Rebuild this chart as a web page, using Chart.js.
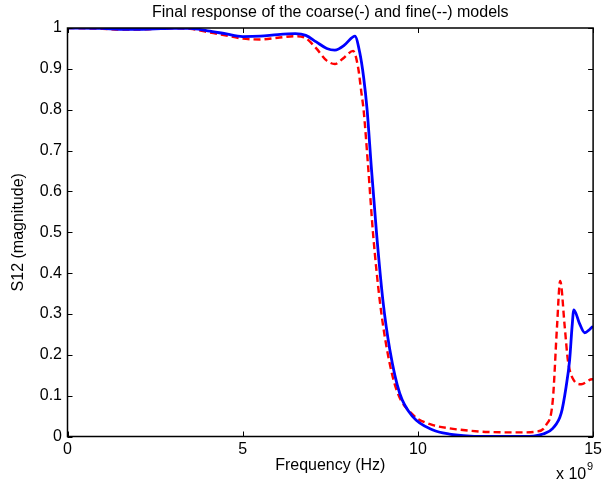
<!DOCTYPE html>
<html>
<head>
<meta charset="utf-8">
<script src="https://cdn.jsdelivr.net/npm/chart.js@4.4.1/dist/chart.umd.min.js"></script>
<style>
  html, body { margin: 0; padding: 0; background: #fff; }
  #wrap { width: 605px; height: 482px; }
</style>
</head>
<body>
<div id="wrap"><canvas id="chart"></canvas></div>
<script>
  // frequency in units of 1e9 Hz
  const freqCoarse = [0, 1, 1.5, 2, 2.5, 3, 3.5, 4, 4.5, 5, 5.5, 6, 6.5, 6.8, 7.1, 7.4, 7.63, 7.9, 8.1, 8.2, 8.34, 8.45, 8.55, 8.67, 8.82, 9.0, 9.2, 9.48, 9.86, 10.43, 10.9, 11.5, 12, 13, 13.3, 13.57, 13.85, 14.09, 14.23, 14.33, 14.4, 14.45, 14.61, 14.76, 14.9, 15];
  const s12Coarse  = [1.0, 0.999, 0.997, 0.997, 0.998, 0.999, 0.999, 0.993, 0.986, 0.979, 0.98, 0.984, 0.986, 0.982, 0.966, 0.95, 0.946, 0.958, 0.975, 0.98, 0.94, 0.88, 0.8, 0.66, 0.497, 0.334, 0.212, 0.106, 0.048, 0.016, 0.006, 0.001, 0, 0, 0.001, 0.006, 0.02, 0.057, 0.122, 0.187, 0.269, 0.31, 0.277, 0.254, 0.262, 0.27];

  const freqFine = [0, 1, 1.5, 2, 2.5, 3, 3.5, 4, 4.5, 5, 5.5, 6, 6.5, 6.8, 7.1, 7.4, 7.63, 7.9, 8.15, 8.29, 8.39, 8.45, 8.58, 8.72, 8.91, 9.12, 9.39, 9.86, 10.43, 10.9, 11.5, 12, 13, 13.38, 13.66, 13.85, 13.97, 14.06, 14.19, 14.28, 14.42, 14.66, 14.97, 15];
  const s12Fine  = [1.0, 0.998, 0.996, 0.996, 0.998, 0.999, 0.998, 0.99, 0.982, 0.974, 0.972, 0.976, 0.98, 0.975, 0.95, 0.92, 0.912, 0.928, 0.944, 0.905, 0.84, 0.8, 0.66, 0.497, 0.334, 0.212, 0.114, 0.053, 0.028, 0.02, 0.014, 0.011, 0.01, 0.012, 0.028, 0.089, 0.269, 0.381, 0.269, 0.187, 0.142, 0.128, 0.14, 0.14];

  const xTicks = [0, 5, 10, 15];
  const yTicks = [0, 0.1, 0.2, 0.3, 0.4, 0.5, 0.6, 0.7, 0.8, 0.9, 1];

  const titleText = "Final response of the coarse(-) and fine(--) models";
  const FONT = "'Liberation Sans', Arial, sans-serif";

  const toPoints = (xs, ys) => xs.map((x, i) => ({ x: x, y: ys[i] }));

  // matlab style box with inward ticks, title over the axes, exponent label
  const matlabBox = {
    id: "matlabBox",
    afterDraw(chart) {
      const { ctx, chartArea: a, scales } = chart;
      ctx.save();
      ctx.strokeStyle = "#000";
      ctx.lineWidth = 1.5;
      ctx.strokeRect(a.left, a.top, a.right - a.left, a.bottom - a.top);
      ctx.lineWidth = 1;
      ctx.beginPath();
      xTicks.forEach(v => {
        const px = Math.round(scales.x.getPixelForValue(v)) + 0.5;
        ctx.moveTo(px, a.bottom); ctx.lineTo(px, a.bottom - 5);
        ctx.moveTo(px, a.top); ctx.lineTo(px, a.top + 5);
      });
      yTicks.forEach(v => {
        const py = Math.round(scales.y.getPixelForValue(v)) + 0.5;
        ctx.moveTo(a.left, py); ctx.lineTo(a.left + 5, py);
        ctx.moveTo(a.right, py); ctx.lineTo(a.right - 5, py);
      });
      ctx.stroke();

      ctx.fillStyle = "#000";
      ctx.font = "16px " + FONT;
      ctx.textAlign = "center";
      ctx.textBaseline = "middle";
      ctx.fillText(titleText, (a.left + a.right) / 2, 13);

      ctx.textBaseline = "alphabetic";
      ctx.textAlign = "left";
      ctx.fillText("x 10", 556, 479);
      ctx.font = "11px " + FONT;
      ctx.fillText("9", 587, 470);
      ctx.restore();
    }
  };

  new Chart(document.getElementById("chart"), {
    type: "line",
    data: {
      datasets: [
        {
          label: "coarse",
          data: toPoints(freqCoarse, s12Coarse),
          borderColor: "#0000ff",
          borderWidth: 2.8,
          pointRadius: 0,
          cubicInterpolationMode: "monotone",
          fill: false
        },
        {
          label: "fine",
          data: toPoints(freqFine, s12Fine),
          borderColor: "#ff0000",
          borderWidth: 2.4,
          borderDash: [7, 4],
          pointRadius: 0,
          cubicInterpolationMode: "monotone",
          fill: false
        }
      ]
    },
    options: {
      responsive: true,
      maintainAspectRatio: false,
      animation: false,
      layout: { padding: { top: 28, right: 2.5, left: 0, bottom: 0 } },
      plugins: {
        legend: { display: false },
        tooltip: { enabled: false },
        title: { display: false }
      },
      scales: {
        x: {
          type: "linear",
          min: 0,
          max: 15,
          afterBuildTicks: s => { s.ticks = xTicks.map(v => ({ value: v })); },
          afterFit: s => { s.height = 45.5; },
          grid: { display: false, drawTicks: false },
          border: { display: false },
          ticks: { color: "#000", padding: 3, maxRotation: 0, font: { family: FONT, size: 16 } },
          title: {
            display: true,
            text: "Frequency (Hz)",
            color: "#000",
            font: { family: FONT, size: 16 },
            padding: { top: 0, bottom: 6.4 }
          }
        },
        y: {
          min: 0,
          max: 1,
          afterBuildTicks: s => { s.ticks = yTicks.map(v => ({ value: v })); },
          afterFit: s => { s.width = 67.5; },
          grid: { display: false, drawTicks: false },
          border: { display: false },
          ticks: {
            color: "#000",
            padding: 5.5,
            font: { family: FONT, size: 16 },
            callback: v => String(Math.round(v * 10) / 10)
          },
          title: {
            display: true,
            text: "S12 (magnitude)",
            color: "#000",
            font: { family: FONT, size: 16 },
            padding: { top: 9, bottom: 0 }
          }
        }
      }
    },
    plugins: [matlabBox]
  });
</script>
</body>
</html>
